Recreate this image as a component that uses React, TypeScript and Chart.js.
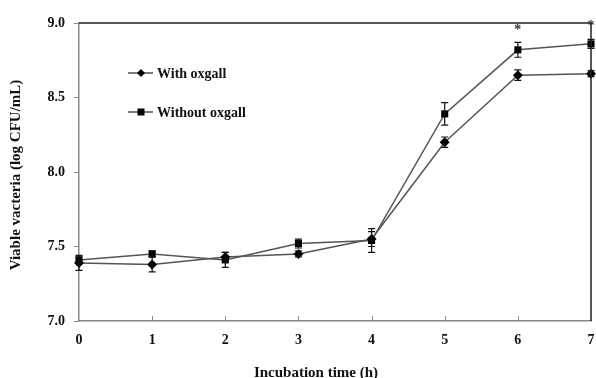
import React, { useEffect, useRef } from "react";
import { Chart, registerables } from "chart.js";
Chart.register(...registerables);

const hours = [0, 1, 2, 3, 4, 5, 6, 7];
const withOxgall = [7.39, 7.38, 7.43, 7.45, 7.55, 8.2, 8.65, 8.66];
const withOxgallErr = [0.05, 0.05, 0.03, 0.02, 0.05, 0.035, 0.035, 0.02];
const withoutOxgall = [7.41, 7.45, 7.41, 7.52, 7.54, 8.39, 8.82, 8.86];
const withoutOxgallErr = [0.02, 0.02, 0.05, 0.03, 0.08, 0.075, 0.05, 0.03];
const yTicks = [7.0, 7.5, 8.0, 8.5, 9.0];
const starHours = [6, 7];
const starValues = [8.97, 9.0];
const seriesLabels = ["With oxgall", "Without oxgall"];
const xTitle = "Incubation time (h)";
const yTitle = "Viable vacteria (log CFU/mL)";

const FONT = "'Liberation Serif', 'Times New Roman', serif";

const plotPlugin = {
  id: "plotExtras",
  afterDatasetsDraw(chart: any) {
    const { ctx, chartArea, scales } = chart;
    const xs = scales.x;
    const ys = scales.y;
    ctx.save();
    const errs = [withOxgallErr, withoutOxgallErr];
    const vals = [withOxgall, withoutOxgall];
    ctx.strokeStyle = "#111";
    ctx.lineWidth = 1.2;
    for (let s = 0; s < 2; s++) {
      for (let i = 0; i < hours.length; i++) {
        const px = xs.getPixelForValue(hours[i]);
        const top = ys.getPixelForValue(vals[s][i] + errs[s][i]);
        const bot = ys.getPixelForValue(vals[s][i] - errs[s][i]);
        ctx.beginPath();
        ctx.moveTo(px, top);
        ctx.lineTo(px, bot);
        ctx.moveTo(px - 3.5, top);
        ctx.lineTo(px + 3.5, top);
        ctx.moveTo(px - 3.5, bot);
        ctx.lineTo(px + 3.5, bot);
        ctx.stroke();
      }
    }
    ctx.strokeStyle = "#222";
    ctx.lineWidth = 1.5;
    ctx.beginPath();
    ctx.moveTo(chartArea.left, chartArea.top);
    ctx.lineTo(chartArea.right, chartArea.top);
    ctx.lineTo(chartArea.right, chartArea.bottom);
    ctx.stroke();
    ctx.strokeStyle = "#888";
    ctx.lineWidth = 1;
    for (let i = 1; i < hours.length - 1; i++) {
      const px = Math.round(xs.getPixelForValue(hours[i])) + 0.5;
      ctx.beginPath();
      ctx.moveTo(px, chartArea.bottom);
      ctx.lineTo(px, chartArea.bottom - 5);
      ctx.stroke();
    }
    ctx.fillStyle = "#333";
    ctx.font = `bold 14px ${FONT}`;
    ctx.textAlign = "center";
    ctx.textBaseline = "middle";
    for (let i = 0; i < starHours.length; i++) {
      ctx.fillText("*", xs.getPixelForValue(starHours[i]), ys.getPixelForValue(starValues[i]) + 3);
    }
    const legendY = [73, 112];
    const styles = ["rectRot", "rect"];
    for (let s = 0; s < 2; s++) {
      const y = legendY[s];
      ctx.strokeStyle = "#222";
      ctx.lineWidth = 1.2;
      ctx.beginPath();
      ctx.moveTo(128, y);
      ctx.lineTo(153, y);
      ctx.stroke();
      ctx.fillStyle = "#000";
      if (styles[s] === "rectRot") {
        ctx.beginPath();
        ctx.moveTo(141, y - 4);
        ctx.lineTo(145, y);
        ctx.lineTo(141, y + 4);
        ctx.lineTo(137, y);
        ctx.closePath();
        ctx.fill();
      } else {
        ctx.fillRect(137.5, y - 3.5, 7, 7);
      }
      ctx.fillStyle = "#111";
      ctx.font = `bold 14px ${FONT}`;
      ctx.textAlign = "left";
      ctx.textBaseline = "middle";
      ctx.fillText(seriesLabels[s], 157, y + 1);
    }
    // axis titles
    ctx.fillStyle = "#111";
    ctx.font = `bold 15px ${FONT}`;
    ctx.textAlign = "center";
    ctx.textBaseline = "middle";
    ctx.fillText(xTitle, 316, 373);
    ctx.translate(16, 175);
    ctx.rotate(-Math.PI / 2);
    ctx.fillText(yTitle, 0, 0);
    ctx.restore();
  },
};

export default function App() {
  const ref = useRef<HTMLCanvasElement>(null);
  useEffect(() => {
    document.body.style.margin = "0";
    const chart = new Chart(ref.current!, {
      type: "line",
      data: {
        datasets: [
          {
            label: seriesLabels[0],
            data: hours.map((h, i) => ({ x: h, y: withOxgall[i] })),
            borderColor: "#555",
            borderWidth: 1.5,
            pointStyle: "rectRot",
            pointRadius: 5,
            pointBackgroundColor: "#000",
            pointBorderColor: "#000",
            pointBorderWidth: 0,
            clip: false,
          },
          {
            label: seriesLabels[1],
            data: hours.map((h, i) => ({ x: h, y: withoutOxgall[i] })),
            borderColor: "#555",
            borderWidth: 1.5,
            pointStyle: "rect",
            pointRadius: 5,
            pointBackgroundColor: "#000",
            pointBorderColor: "#000",
            pointBorderWidth: 0,
            clip: false,
          },
        ],
      },
      options: {
        animation: false,
        responsive: false,
        layout: { padding: { top: 23, right: 2, left: 0, bottom: 0 } },
        plugins: { legend: { display: false }, tooltip: { enabled: false } },
        scales: {
          x: {
            type: "linear",
            min: 0,
            max: 7,
            afterFit: (s: any) => {
              s.height = 57;
              s.paddingLeft = 0;
              s.paddingRight = 0;
            },
            afterBuildTicks: (s: any) => {
              s.ticks = hours.map((v) => ({ value: v }));
            },
            grid: { display: false },
            border: { color: "#888", width: 1.5 },
            ticks: {
              color: "#111",
              padding: 3,
              font: { family: FONT, size: 14, weight: "bold" },
              maxRotation: 0,
            },
            title: { display: false },
          },
          y: {
            min: 7,
            max: 9,
            afterFit: (s: any) => {
              s.width = 79;
              s.paddingTop = 0;
              s.paddingBottom = 0;
            },
            afterBuildTicks: (s: any) => {
              s.ticks = yTicks.map((v) => ({ value: v }));
            },
            grid: { drawOnChartArea: false, tickLength: 5, color: "#888" },
            border: { color: "#888", width: 1.5 },
            ticks: {
              color: "#111",
              padding: 9,
              font: { family: FONT, size: 14, weight: "bold" },
              callback: (v: any) => Number(v).toFixed(1),
            },
            title: { display: false },
          },
        },
      },
      plugins: [plotPlugin],
    } as any);
    return () => chart.destroy();
  }, []);
  return (
    <div style={{ width: 596, height: 378 }}>
      <canvas ref={ref} width={596} height={378} style={{ display: "block" }} />
    </div>
  );
}
